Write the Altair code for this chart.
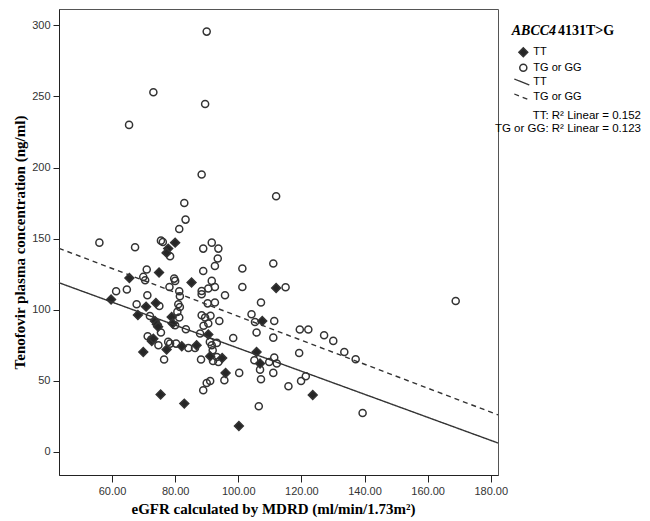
import altair as alt
import pandas as pd

# ---------------- data ----------------
genotypes = ["TT", "TG or GG"]

tt_x = [80.0, 77.8, 77.3, 112.0, 74.9, 65.5, 85.2, 59.7, 70.8, 73.9, 68.2, 73.6, 74.2, 74.6,
        78.9, 79.2, 90.5, 72.6, 73.1, 69.9, 77.3, 82.1, 86.8, 91.1, 94.9, 96.0, 105.8, 107.6,
        106.9, 75.4, 82.9, 100.2, 123.6]
tt_y = [147.2, 143.0, 140.0, 115.3, 126.2, 122.4, 119.1, 107.2, 102.2, 104.8, 96.3, 92.1, 89.8, 88.0,
        94.9, 90.3, 82.6, 78.0, 79.7, 70.3, 72.0, 74.3, 75.0, 67.3, 66.1, 55.6, 70.3, 92.1,
        62.2, 40.4, 34.0, 18.3, 40.1]

tg_x = [90.0, 73.1, 89.5, 65.4, 88.4, 112.0, 82.9, 83.3, 81.3, 56.0, 67.3, 75.5, 76.1, 78.4,
        91.6, 88.9, 93.7, 93.5, 92.6, 88.9, 101.3, 111.1, 71.0, 69.9, 70.5, 79.7, 80.0, 78.2,
        91.6, 92.6, 90.5, 88.4, 88.4, 81.3, 81.5, 101.3, 95.8, 61.3, 64.7, 71.2, 67.8, 75.0,
        81.0, 81.5, 90.3, 92.6, 107.2, 115.0, 168.9,
        72.0, 80.7, 81.3, 75.5, 83.4, 80.0, 88.4, 89.5, 91.2, 90.5, 89.0, 94.0, 87.9, 91.0,
        91.6, 91.9, 93.2, 98.4, 104.2, 105.3, 111.4, 105.8, 111.1, 71.3, 72.4, 74.7, 76.5,
        77.8, 78.4, 80.3, 84.2, 86.3, 88.2, 93.2, 93.7, 92.0, 95.6, 100.3, 88.9, 90.0, 91.1,
        106.5, 105.1, 106.9, 107.2, 109.8, 111.1, 112.2, 111.4,
        119.5, 122.2, 127.2, 130.1, 133.6, 137.2, 119.3, 115.9, 119.9, 121.4, 139.4]
tg_y = [295.6, 253.0, 244.7, 230.0, 195.1, 179.8, 175.1, 163.4, 156.8, 147.2, 144.0, 148.6, 147.7, 137.6,
        147.2, 143.0, 143.0, 136.0, 130.8, 127.3, 129.0, 132.5, 128.3, 123.1, 120.7, 121.9, 120.3, 116.0,
        120.3, 116.0, 114.9, 113.2, 110.9, 113.0, 109.5, 116.0, 110.2, 113.0, 114.2, 110.2, 103.9, 102.7,
        103.9, 102.0, 104.5, 105.1, 105.1, 115.8, 106.2,
        95.6, 98.5, 94.5, 84.0, 86.3, 89.1, 96.1, 94.5, 95.8, 90.3, 88.8, 92.1, 83.3, 77.4,
        75.0, 71.5, 76.7, 80.2, 96.8, 91.4, 92.1, 84.0, 80.4, 81.4, 79.0, 75.0, 65.0,
        77.4, 76.2, 76.2, 73.1, 73.1, 65.0, 66.8, 63.3, 64.0, 50.4, 55.6, 43.4, 48.5, 49.9,
        32.1, 64.5, 57.9, 51.1, 63.3, 55.6, 62.2, 66.4,
        86.1, 86.1, 82.1, 78.1, 70.3, 65.2, 69.6, 46.2, 49.9, 53.2, 27.4]

fit_x = [43.2, 182.3]
tt_fit = [119.0, 6.3]
tg_fit = [143.2, 26.1]
r2_values = [0.152, 0.123]

x_ticks = [60, 80, 100, 120, 140, 160, 180]
y_ticks = [0, 50, 100, 150, 200, 250, 300]
x_domain = [43.2, 182.3]
y_domain = [-16.2, 311.5]

gene = "ABCC4"
variant = "4131T>G"
x_title = "eGFR calculated by MDRD (ml/min/1.73m\u00b2)"
y_title = "Tenofovir plasma concentration (ng/ml)"

# ---------------- tables ----------------
pts = pd.concat([
    pd.DataFrame({"egfr": tg_x, "conc": tg_y, "genotype": genotypes[1]}),
    pd.DataFrame({"egfr": tt_x, "conc": tt_y, "genotype": genotypes[0]}),
], ignore_index=True)

fits = pd.concat([
    pd.DataFrame({"egfr": fit_x, "conc": tt_fit, "fit": genotypes[0]}),
    pd.DataFrame({"egfr": fit_x, "conc": tg_fit, "fit": genotypes[1]}),
], ignore_index=True)

r2_df = pd.DataFrame({"genotype": genotypes, "r2": r2_values})
key_df = pd.DataFrame({"genotype": genotypes})
title_df = pd.DataFrame({"gene": [gene], "variant": [variant]})

# ---------------- encodings ----------------
SANS = "Liberation Sans"
SERIF = "Liberation Serif"
DIAMOND = "M-1.25,0L0,-1.25L1.25,0L0,1.25Z"

x_enc = alt.X("egfr:Q",
              scale=alt.Scale(domain=x_domain, nice=False, zero=False),
              axis=alt.Axis(values=x_ticks, format=".2f", title=x_title, tickSize=7,
                            labelPadding=3, titlePadding=5, titleX=214, grid=False))
y_enc = alt.Y("conc:Q",
              scale=alt.Scale(domain=y_domain, nice=False, zero=False),
              axis=alt.Axis(values=y_ticks, format="d", title=y_title, tickSize=6,
                            labelPadding=3, titlePadding=4, grid=False))

shape_enc = alt.Shape("genotype:N", scale=alt.Scale(domain=genotypes, range=[DIAMOND, "circle"]),
                      legend=None)
fill_enc = alt.Fill("genotype:N", scale=alt.Scale(domain=genotypes, range=["#262626", "transparent"]),
                    legend=None)

line_legend = alt.Legend(title=None, orient="none", legendX=454.3, legendY=64.5,
                         labelFont=SANS, labelFontSize=11, labelColor="#000000",
                         symbolType="M-1,-0.4L1,0.4", symbolSize=225,
                         symbolStrokeColor="#333333", symbolStrokeWidth=1.3,
                         labelOffset=3, rowPadding=0, padding=0)

points = alt.Chart(pts).mark_point(stroke="#333333", strokeWidth=1.5, opacity=1, size=50).encode(
    x=x_enc, y=y_enc, shape=shape_enc, fill=fill_enc,
)

lines = alt.Chart(fits).mark_line(color="#333333", strokeWidth=1.4).encode(
    x=x_enc, y=y_enc,
    strokeDash=alt.StrokeDash("fit:N", sort="descending",
                              scale=alt.Scale(range=[[1, 0], [5, 4]]),
                              legend=line_legend),
)

# key for the point symbols (same shape / fill scales as the data points)
def key_row(i):
    g = genotypes[i]
    ypos = 43.3 + i * 15.4
    sym = alt.Chart(key_df).transform_filter(alt.datum.genotype == g).mark_point(
        stroke="#333333", strokeWidth=1.5, opacity=1, size=50
    ).encode(x=alt.value(464.3), y=alt.value(ypos), shape=shape_enc, fill=fill_enc)
    lab = alt.Chart(key_df).transform_filter(alt.datum.genotype == g).mark_text(
        font=SANS, fontSize=11, align="left", baseline="middle", color="#000000"
    ).encode(x=alt.value(474.3), y=alt.value(ypos), text="genotype:N")
    return [sym, lab]

gene_text = alt.Chart(title_df).mark_text(
    font=SERIF, fontSize=14, fontWeight="bold", fontStyle="italic",
    align="left", baseline="alphabetic", color="#000000"
).encode(x=alt.value(452.7), y=alt.value(26), text="gene:N")

variant_text = alt.Chart(title_df).mark_text(
    font=SERIF, fontSize=14, fontWeight="bold",
    align="left", baseline="alphabetic", color="#000000"
).encode(x=alt.value(499), y=alt.value(26), text="variant:N")

def r2_text(g, ypos):
    return alt.Chart(r2_df).transform_filter(
        alt.datum.genotype == g
    ).transform_calculate(
        label="datum.genotype + ': R\u00b2 Linear = ' + format(datum.r2, '.3f')"
    ).mark_text(font=SANS, fontSize=11.5, align="right", baseline="middle", color="#000000").encode(
        x=alt.value(582), y=alt.value(ypos), text="label:N"
    )

chart = alt.layer(
    points, lines, *key_row(0), *key_row(1), gene_text, variant_text,
    r2_text(genotypes[0], 107), r2_text(genotypes[1], 120)
).properties(
    width=439, height=466,
    padding={"left": 51, "top": 1, "right": 143, "bottom": 44},
    autosize=alt.AutoSizeParams(type="none"),
    background="#ffffff",
).configure_view(
    stroke="#555555", strokeWidth=1
).configure_axis(
    domainColor="#222222", tickColor="#222222", domainWidth=1, tickWidth=1,
    labelFont=SANS, labelFontSize=11, labelColor="#333333",
    titleFont=SERIF, titleFontSize=15, titleFontWeight="bold", titleColor="#000000",
)

chart.save("out.html", embed_options={"renderer": "svg", "actions": False})
